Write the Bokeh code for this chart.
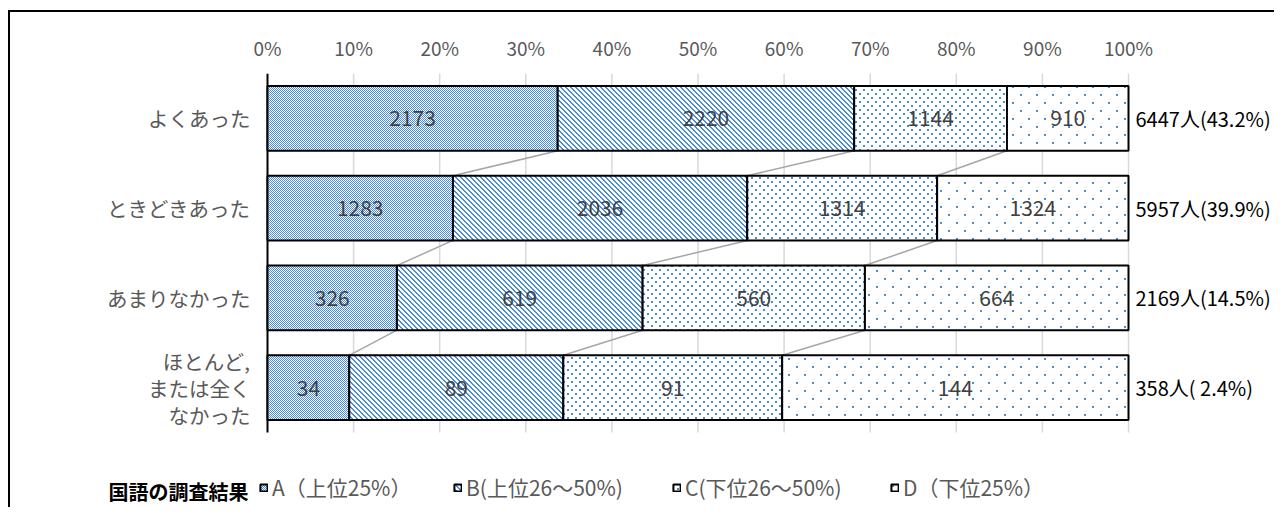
import zlib, struct, base64
from bokeh.plotting import figure
from bokeh.models import (Range1d, FixedTicker, PrintfTickFormatter, ColumnDataSource,
                          Label, Legend, LegendItem, ImageURLTexture)
from bokeh.core.properties import value
from bokeh.embed import file_html
from bokeh.resources import INLINE

# ---------------- data ----------------
categories = ["よくあった", "ときどきあった", "あまりなかった", "ほとんど,\nまたは全く\nなかった"]
series_labels = ["A（上位25%）", "B(上位26～50%)", "C(下位26～50%)", "D（下位25%）"]
a_counts = [2173, 1283, 326, 34]
b_counts = [2220, 2036, 619, 89]
c_counts = [1144, 1314, 560, 91]
d_counts = [910, 1324, 664, 144]
x_ticks = [0, 10, 20, 30, 40, 50, 60, 70, 80, 90, 100]
legend_title = "国語の調査結果"

# ---------------- styling ----------------
JP = "Noto Sans CJK JP"
NUM = "Liberation Sans Narrow, Noto Sans CJK JP"
GRAY = "#595959"


def png_tile(size, pixels, rgb=(74, 141, 214)):
    """Small opaque pattern tile (white with blue pixels) as a data URI."""
    px = [[(255, 255, 255, 255)] * size for _ in range(size)]
    for (x, y) in pixels:
        px[y % size][x % size] = rgb + (255,)
    raw = b"".join(b"\x00" + bytes(v for c in row for v in c) for row in px)

    def chunk(tag, d):
        return struct.pack(">I", len(d)) + tag + d + struct.pack(">I", zlib.crc32(tag + d) & 0xffffffff)
    png = (b"\x89PNG\r\n\x1a\n"
           + chunk(b"IHDR", struct.pack(">IIBBBBB", size, size, 8, 6, 0, 0, 0))
           + chunk(b"IDAT", zlib.compress(raw))
           + chunk(b"IEND", b""))
    return "data:image/png;base64," + base64.b64encode(png).decode()


def block(x, y, w, h):
    return [(x + i, y + j) for i in range(w) for j in range(h)]


textures = {
    "tA": ImageURLTexture(url=png_tile(2, [(0, 0), (1, 1)])),
    "tB": ImageURLTexture(url=png_tile(5, [(i, i) for i in range(5)] + [((i + 1) % 5, i) for i in range(5)])),
    "tC": ImageURLTexture(url=png_tile(8, block(1, 1, 2, 2) + block(5, 5, 2, 2))),
    "tD": ImageURLTexture(url=png_tile(16, block(2, 2, 2, 2) + block(10, 10, 2, 2))),
}
pat = [value("tA"), value("tB"), value("tC"), value("tD")]

# ---------------- layout (pixels) ----------------
W, H = 1266, 497          # canvas size
TOP = 61                  # frame top inside canvas (room for the % axis)
ORG_X, ORG_Y = 10, 12     # canvas origin on the page (margin + border)
X0_PAGE, X100_PAGE = 267, 1128
PXU = (X100_PAGE - X0_PAGE) / 100.0   # px per percent
ROW_PX = 89.75                       # px per category row

def px2x(px):
    return (px - X0_PAGE) / PXU

# ---------------- derived ----------------
n = len(categories)
ypos = [n - 1 - i for i in range(n)]
counts = [a_counts, b_counts, c_counts, d_counts]
totals = [sum(c[i] for c in counts) for i in range(n)]
grand = sum(totals)
shares = [[c[i] / totals[i] * 100 for i in range(n)] for c in counts]
keys = ["A", "B", "C", "D"]

data = dict(y=ypos)
for k, s in zip(keys, shares):
    data[k] = s
src = ColumnDataSource(data)

x_start = px2x(ORG_X)
x_end = px2x(ORG_X + W)
y_top = n - 0.5
y_bot = y_top - (H - TOP) / ROW_PX

def py2y(py):
    return y_top - (py - (ORG_Y + TOP)) / ROW_PX

p = figure(width=W, height=H, output_backend="svg", toolbar_location=None,
           x_range=Range1d(x_start, x_end), y_range=Range1d(y_bot, y_top),
           x_axis_location="above", y_axis_location=None,
           min_border_left=0, min_border_right=0, min_border_top=TOP, min_border_bottom=0)
p.outline_line_color = None
p.background_fill_color = "white"
p.border_fill_color = "white"
p.styles = {"margin-left": "8px", "margin-top": "10px",
            "border-left": "2px solid black", "border-top": "2px solid black"}

# x axis (top)
p.xaxis.ticker = FixedTicker(ticks=x_ticks)
p.xaxis.formatter = PrintfTickFormatter(format="%d%%")
p.xaxis.axis_line_color = None
p.xaxis.major_tick_line_color = None
p.xaxis.minor_tick_line_color = None
p.xaxis.major_label_text_font = NUM
p.xaxis.major_label_text_font_size = "19px"
p.xaxis.major_label_text_color = GRAY
p.xaxis.major_label_standoff = 7
p.grid.visible = False

BH = 0.72

# vertical grid lines over the plotting band, and the category axis line
p.segment(x0=x_ticks[1:], y0=[-0.5] * (len(x_ticks) - 1), x1=x_ticks[1:], y1=[n - 0.5] * (len(x_ticks) - 1),
          line_color="#D9D9D9", line_width=1.5)
p.segment(x0=[0], y0=[-0.5], x1=[0], y1=[n - 0.5], line_color="black", line_width=2)

# category labels
p.text(x=[px2x(250)] * n, y=ypos, text=categories, text_align="right", text_baseline="middle",
       text_font=value(JP), text_font_size="20.5px", text_color=GRAY, text_line_height=0.9)

# connector (series) lines
cum = []
run = [0.0] * n
for s in shares[:-1]:
    run = [r + v for r, v in zip(run, s)]
    cum.append(list(run))
x0, y0, x1, y1 = [], [], [], []
for cb in cum:
    for i in range(n - 1):
        x0.append(cb[i]); y0.append(ypos[i] - BH / 2)
        x1.append(cb[i + 1]); y1.append(ypos[i + 1] + BH / 2)
p.segment(x0=x0, y0=y0, x1=x1, y1=y1, line_color="#A6A6A6", line_width=1.5)

bars = p.hbar_stack(keys, y="y", height=BH, source=src,
                    fill_color="white", line_color="black", line_width=2,
                    hatch_pattern=pat, hatch_extra=textures)

# value labels
tx, ty, tt = [], [], []
base = [0.0] * n
for c, s in zip(counts, shares):
    for i in range(n):
        tx.append(base[i] + s[i] / 2); ty.append(ypos[i]); tt.append(str(c[i]))
    base = [b + v for b, v in zip(base, s)]
p.text(x=tx, y=ty, text=tt, text_align="center", text_baseline="middle",
       text_font=value(NUM), text_font_size="21px", text_color="#404040")

# right-hand totals
p.text(x=[100] * n, y=ypos, x_offset=7,
       text=[f"{t}人({t / grand * 100:4.1f}%)" for t in totals],
       text_align="left", text_baseline="middle",
       text_font=value(NUM), text_font_size="20px", text_color="black")

# legend
LEG_Y = 491
p.add_layout(Label(x=px2x(108), y=py2y(LEG_Y), text=legend_title, text_align="left",
                   text_baseline="middle", text_font=JP, text_font_size="20px",
                   text_font_style="bold", text_color="black"))
icon_px = [259, 453, 672, 890]
frame_bottom_page = ORG_Y + H
for k in range(4):
    lg = Legend(items=[LegendItem(label=series_labels[k], renderers=[bars[k]])],
                location=(icon_px[k] - ORG_X, frame_bottom_page - (LEG_Y + 11)),
                orientation="horizontal",
                padding=0, margin=0, border_line_color=None, background_fill_alpha=0,
                glyph_width=9, glyph_height=9, label_standoff=4, label_height=20,
                label_text_font=NUM, label_text_font_size="21px", label_text_color=GRAY)
    p.add_layout(lg, "center")

open("out.html", "w").write(file_html(p, INLINE))
